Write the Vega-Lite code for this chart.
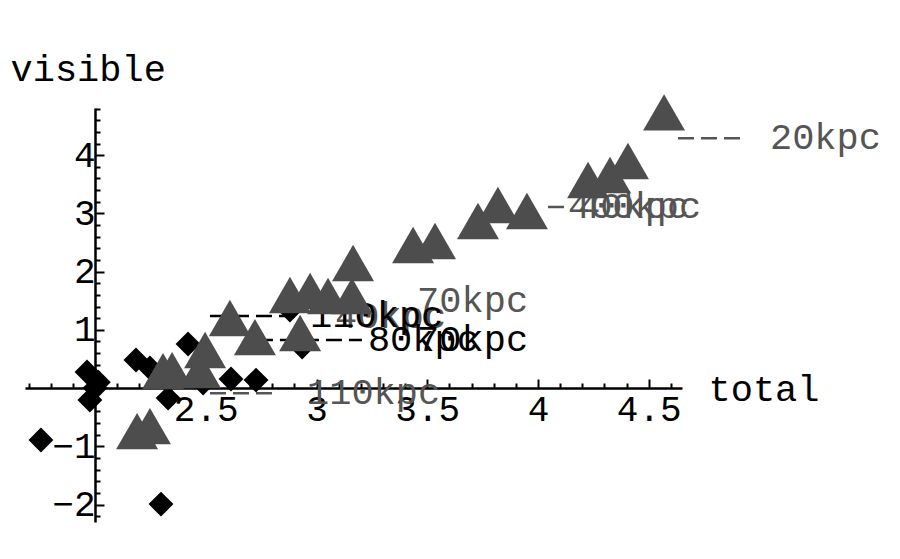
{
  "$schema": "https://vega.github.io/schema/vega-lite/v6.json",
  "width": 657,
  "height": 414,
  "autosize": "none",
  "padding": {"left": 25, "top": 108, "right": 218, "bottom": 37},
  "background": "white",
  "config": {
    "view": {"stroke": null},
    "font": "Liberation Mono",
    "axis": {"grid": false, "labelOverlap": false, "labelFlush": false, "domainColor": "black", "tickColor": "black", "labelColor": "black", "titleColor": "black", "labelFont": "Liberation Mono", "titleFont": "Liberation Mono", "titleFontWeight": "normal", "labelFontSize": 36, "titleFontSize": 37}
  },
  "datasets": {
    "pts": [
      {"s": "tri", "x": 4.569, "y": 4.734},
      {"s": "tri", "x": 4.226, "y": 3.574},
      {"s": "tri", "x": 4.325, "y": 3.66},
      {"s": "tri", "x": 4.406, "y": 3.9},
      {"s": "tri", "x": 3.729, "y": 2.869},
      {"s": "tri", "x": 3.819, "y": 3.144},
      {"s": "tri", "x": 3.95, "y": 3.041},
      {"s": "tri", "x": 3.436, "y": 2.457},
      {"s": "tri", "x": 3.535, "y": 2.526},
      {"s": "tri", "x": 3.165, "y": 2.148},
      {"s": "tri", "x": 2.88, "y": 1.598},
      {"s": "tri", "x": 2.971, "y": 1.667},
      {"s": "tri", "x": 3.052, "y": 1.581},
      {"s": "tri", "x": 3.16, "y": 1.581},
      {"s": "tri", "x": 2.926, "y": 0.945},
      {"s": "tri", "x": 2.609, "y": 1.203},
      {"s": "tri", "x": 2.722, "y": 0.876},
      {"s": "tri", "x": 2.497, "y": 0.653},
      {"s": "tri", "x": 2.474, "y": 0.309},
      {"s": "tri", "x": 2.307, "y": 0.292},
      {"s": "tri", "x": 2.348, "y": 0.309},
      {"s": "tri", "x": 2.19, "y": -0.739},
      {"s": "tri", "x": 2.248, "y": -0.653},
      {"s": "dia", "x": 1.756, "y": -0.893},
      {"s": "dia", "x": 1.964, "y": 0.275},
      {"s": "dia", "x": 2.0, "y": 0.0},
      {"s": "dia", "x": 2.015, "y": 0.1},
      {"s": "dia", "x": 1.977, "y": -0.206},
      {"s": "dia", "x": 2.185, "y": 0.481},
      {"s": "dia", "x": 2.248, "y": 0.344},
      {"s": "dia", "x": 2.33, "y": -0.172},
      {"s": "dia", "x": 2.298, "y": -1.993},
      {"s": "dia", "x": 2.42, "y": 0.756},
      {"s": "dia", "x": 2.614, "y": 0.155},
      {"s": "dia", "x": 2.727, "y": 0.137},
      {"s": "dia", "x": 2.935, "y": 0.704},
      {"s": "dia", "x": 2.88, "y": 1.34},
      {"s": "dia", "x": 2.488, "y": 0.086}
    ],
    "labels": [
      {"s": "tri", "x1": 4.632, "x2": 4.912, "xt": 5.047, "y": 4.29, "t": "20kpc"},
      {"s": "tri", "x1": 4.045, "x2": 4.126, "xt": 4.135, "y": 3.11, "t": "400kpc"},
      {"s": "tri", "x1": null, "x2": null, "xt": 4.181, "y": 3.11, "t": "40kpc"},
      {"s": "tri", "x1": null, "x2": null, "xt": 3.454, "y": 1.495, "t": "70kpc"},
      {"s": "tri", "x1": null, "x2": null, "xt": 3.084, "y": 1.22, "t": "40kpc"},
      {"s": "tri", "x1": 2.519, "x2": 2.813, "xt": 2.957, "y": -0.09, "t": "110kpc"},
      {"s": "dia", "x1": 2.519, "x2": 2.925, "xt": 2.971, "y": 1.237, "t": "110kpc"},
      {"s": "dia", "x1": 2.731, "x2": 3.205, "xt": 3.232, "y": 0.825, "t": "80kpc"},
      {"s": "dia", "x1": null, "x2": null, "xt": 3.454, "y": 0.825, "t": "70kpc"}
    ]
  },
  "resolve": {"axis": {"x": "independent", "y": "independent"}},
  "layer": [
    {
      "data": {"name": "labels"},
      "transform": [{"filter": "datum.x1 != null"}],
      "mark": {"type": "rule", "strokeDash": [16, 7], "strokeWidth": 2.5},
      "encoding": {
        "x": {"field": "x1", "type": "quantitative", "scale": {"domain": [1.684, 4.65], "nice": false, "zero": false}, "axis": null},
        "x2": {"field": "x2"},
        "y": {"field": "y", "type": "quantitative", "scale": {"domain": [-2.3, 4.81], "nice": false, "zero": false}, "axis": null},
        "color": {"field": "s", "type": "nominal", "scale": {"domain": ["tri", "dia"], "range": ["#555555", "#000000"]}, "legend": null}
      }
    },
    {
      "data": {"name": "labels"},
      "mark": {"type": "text", "align": "left", "baseline": "middle", "fontSize": 37, "font": "Liberation Mono"},
      "encoding": {
        "x": {"field": "xt", "type": "quantitative", "axis": null},
        "y": {"field": "y", "type": "quantitative", "axis": null},
        "text": {"field": "t"},
        "color": {"field": "s", "type": "nominal", "scale": {"domain": ["tri", "dia"], "range": ["#555555", "#000000"]}, "legend": null}
      }
    },
    {
      "data": {"name": "pts"},
      "transform": [{"filter": "datum.s == 'dia'"}],
      "mark": {"type": "point", "shape": "diamond", "filled": true, "size": 620, "opacity": 1, "color": "black"},
      "encoding": {
        "x": {"field": "x", "type": "quantitative", "axis": {"orient": "bottom", "offset": -134, "domain": false, "values": [2.5, 3, 3.5, 4, 4.5], "format": "~g", "tickSize": -9, "tickWidth": 2, "labelPadding": 13, "labels": true, "title": null}},
        "y": {"field": "y", "type": "quantitative", "axis": {"orient": "left", "offset": -70, "domain": false, "values": [-2, -1, 1, 2, 3, 4], "format": "~g", "tickSize": -9, "tickWidth": 2, "labelPadding": 9, "labelBaseline": "middle", "title": null}}
      }
    },
    {
      "data": {"name": "pts"},
      "transform": [{"filter": "datum.s == 'tri'"}],
      "mark": {"type": "point", "shape": "triangle-up", "filled": true, "size": 1764, "opacity": 1, "color": "#4d4d4d"},
      "encoding": {
        "x": {"field": "x", "type": "quantitative", "axis": {"orient": "bottom", "offset": -134, "domain": true, "domainWidth": 2.5, "values": [1.7, 1.8, 1.9, 2.1, 2.2, 2.3, 2.4, 2.6, 2.7, 2.8, 2.9, 3.1, 3.2, 3.3, 3.4, 3.6, 3.7, 3.8, 3.9, 4.1, 4.2, 4.3, 4.4, 4.6], "tickSize": -5, "tickWidth": 2, "labels": false, "title": "total", "titleX": 683, "titleY": 1, "titleAlign": "left", "titleBaseline": "middle", "titleAngle": 0}},
        "y": {"field": "y", "type": "quantitative", "axis": {"orient": "left", "offset": -70, "domain": true, "domainWidth": 2.5, "values": [-2.2, -1.8, -1.6, -1.4, -1.2, -0.8, -0.6, -0.4, -0.2, 0.2, 0.4, 0.6, 0.8, 1.2, 1.4, 1.6, 1.8, 2.2, 2.4, 2.6, 2.8, 3.2, 3.4, 3.6, 3.8, 4.2, 4.4, 4.6, 4.8], "tickSize": -5, "tickWidth": 2, "labels": false, "title": "visible", "titleX": -85, "titleY": -39, "titleAlign": "left", "titleBaseline": "middle", "titleAngle": 0}}
      }
    }
  ]
}
